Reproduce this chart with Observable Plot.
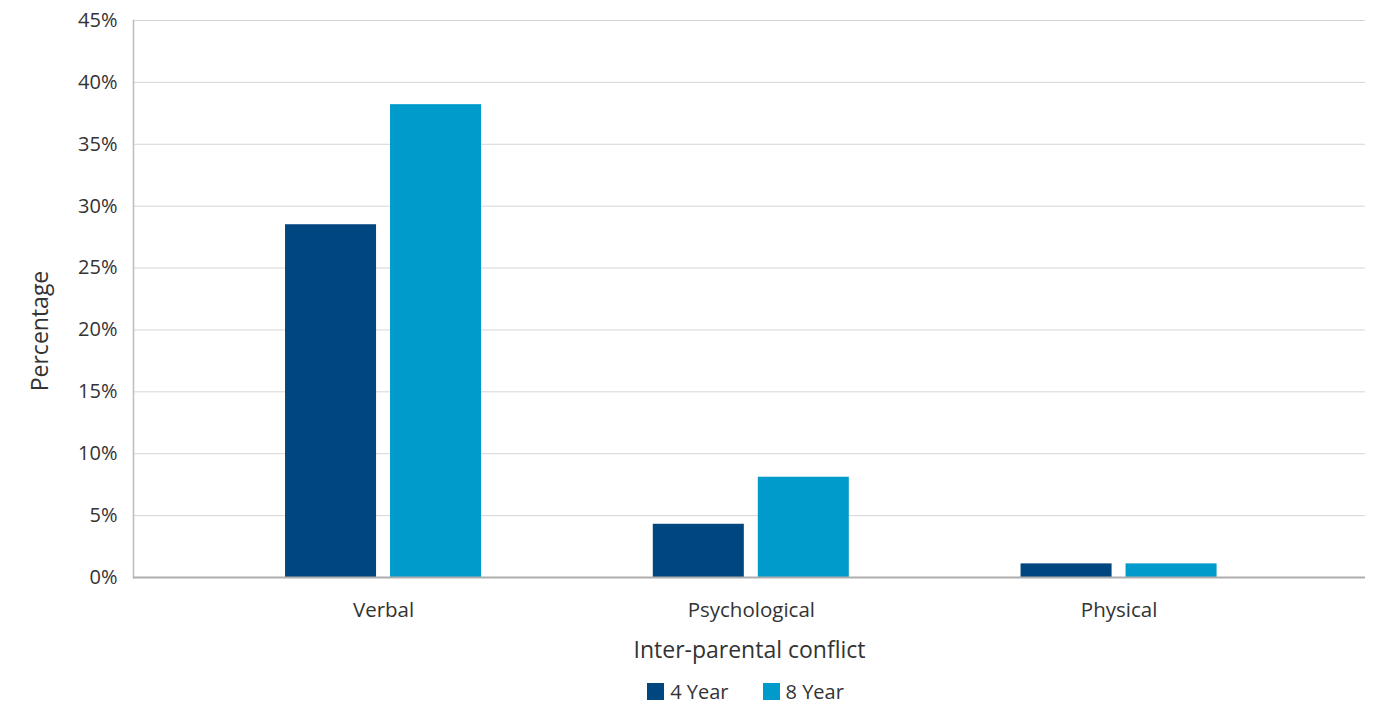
<!DOCTYPE html>
<html>
<head>
<meta charset="utf-8">
<script src="https://cdn.jsdelivr.net/npm/d3@7"></script>
<script src="https://cdn.jsdelivr.net/npm/@observablehq/plot@0.6"></script>
<style>
  html, body { margin: 0; padding: 0; background: #fff; }
  #chart { width: 1379px; font-family: "Open Sans", sans-serif; color: #333; }
  .legend { display: flex; justify-content: center; gap: 34px; font-size: 20px; margin-top: 6px; padding-left: 112px; }
  .legend .item { display: flex; align-items: center; gap: 6px; }
  .legend .sw { width: 17px; height: 17px; display: inline-block; }
</style>
</head>
<body>
<div id="chart"></div>
<script>
// Share of children exposed to each type of inter-parental conflict
const categories = ["Verbal", "Psychological", "Physical"];
const seriesNames = ["4 Year", "8 Year"];
const year4 = [28.5, 4.3, 1.1];
const year8 = [38.2, 8.1, 1.1];
const yTicks = [0, 5, 10, 15, 20, 25, 30, 35, 40, 45];
const colors = ["#00467f", "#009bcb"];

const rows = categories.flatMap((c, i) => [
  {category: c, series: seriesNames[0], value: year4[i]},
  {category: c, series: seriesNames[1], value: year8[i]}
]);

const width = 1379, height = 672;
const marginLeft = 133, marginRight = 14, marginTop = 20, marginBottom = 95;

const plot = Plot.plot({
  width, height, marginLeft, marginRight, marginTop, marginBottom,
  style: {fontFamily: "'Open Sans', sans-serif", fontSize: "20px", color: "#333", background: "#fff"},
  x: {domain: categories, paddingInner: 0.467, paddingOuter: 0.4085, align: 0.506, round: false, label: null},
  y: {domain: [0, 45], label: null},
  color: {domain: seriesNames, range: colors},
  marks: [
    Plot.gridY(yTicks, {stroke: "#d6d6d6", strokeOpacity: 1, strokeWidth: 1}),
    Plot.frame({anchor: "left", stroke: "#bdbdbd", strokeWidth: 1.5}),
    Plot.barY(rows.filter(d => d.series === seriesNames[0]), {x: "category", y: "value", fill: "series", insetRight: 105}),
    Plot.barY(rows.filter(d => d.series === seriesNames[1]), {x: "category", y: "value", fill: "series", insetLeft: 105}),
    Plot.ruleY([0], {stroke: "#adadad", strokeWidth: 2}),
    Plot.axisY(yTicks, {tickSize: 0, tickPadding: 16, tickFormat: d => d + "%", label: null, fontSize: 20}),
    Plot.axisX({tickSize: 0, tickPadding: 25, label: null, fontSize: 20.5}),
    Plot.text(["Percentage"], {frameAnchor: "left", textAnchor: "middle", rotate: -90, dx: -93, dy: 32, fontSize: 23, fill: "#333"}),
    Plot.text(["Inter-parental conflict"], {frameAnchor: "bottom", textAnchor: "middle", lineAnchor: "middle", dy: 73, fontSize: 23, fill: "#333"})
  ]
});

const root = document.getElementById("chart");
root.appendChild(plot);

const legend = document.createElement("div");
legend.className = "legend";
seriesNames.forEach((name, i) => {
  const item = document.createElement("div");
  item.className = "item";
  const sw = document.createElement("span");
  sw.className = "sw";
  sw.style.background = colors[i];
  const label = document.createElement("span");
  label.textContent = name;
  item.appendChild(sw);
  item.appendChild(label);
  legend.appendChild(item);
});
root.appendChild(legend);
</script>
</body>
</html>
